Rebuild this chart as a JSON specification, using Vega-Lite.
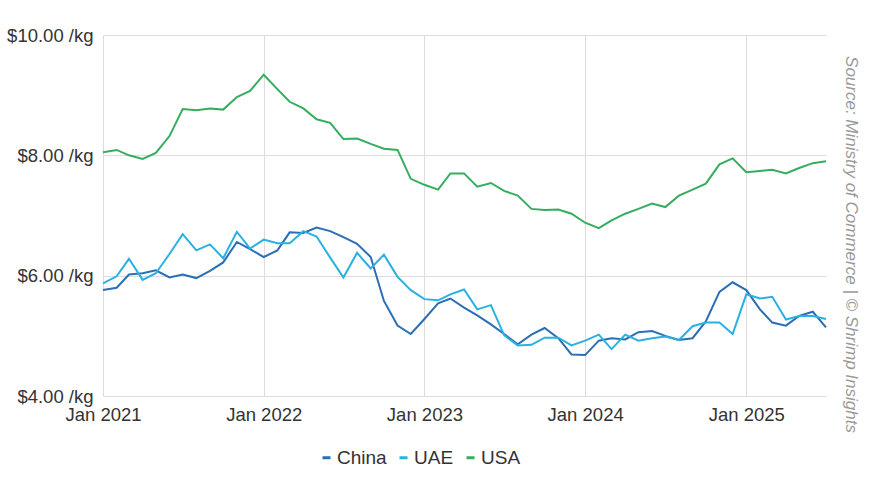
{
  "$schema": "https://vega.github.io/schema/vega-lite/v6.json",
  "width": 723,
  "height": 361,
  "autosize": "none",
  "padding": {"left": 103, "top": 35, "right": 44, "bottom": 93},
  "background": "white",
  "title": {
    "text": "Source: Ministry of Commerce | © Shrimp Insights",
    "orient": "right",
    "anchor": "middle",
    "font": "Liberation Sans",
    "fontSize": 17,
    "fontStyle": "italic",
    "fontWeight": "normal",
    "color": "#9a9a9a",
    "offset": 12,
    "dx": 29
  },
  "datasets": {
    "prices": [
      {"month": "2021-01-01T00:00", "China": 5.76, "UAE": 5.87, "USA": 8.05},
      {"month": "2021-02-01T00:00", "China": 5.80, "UAE": 5.99, "USA": 8.09},
      {"month": "2021-03-01T00:00", "China": 6.02, "UAE": 6.28, "USA": 8.00},
      {"month": "2021-04-01T00:00", "China": 6.04, "UAE": 5.93, "USA": 7.94},
      {"month": "2021-05-01T00:00", "China": 6.09, "UAE": 6.04, "USA": 8.04},
      {"month": "2021-06-01T00:00", "China": 5.97, "UAE": 6.36, "USA": 8.32},
      {"month": "2021-07-01T00:00", "China": 6.02, "UAE": 6.69, "USA": 8.77},
      {"month": "2021-08-01T00:00", "China": 5.96, "UAE": 6.42, "USA": 8.75},
      {"month": "2021-09-01T00:00", "China": 6.08, "UAE": 6.52, "USA": 8.78},
      {"month": "2021-10-01T00:00", "China": 6.22, "UAE": 6.29, "USA": 8.76},
      {"month": "2021-11-01T00:00", "China": 6.56, "UAE": 6.73, "USA": 8.97},
      {"month": "2021-12-01T00:00", "China": 6.44, "UAE": 6.45, "USA": 9.07},
      {"month": "2022-01-01T00:00", "China": 6.31, "UAE": 6.60, "USA": 9.34},
      {"month": "2022-02-01T00:00", "China": 6.42, "UAE": 6.54, "USA": 9.10},
      {"month": "2022-03-01T00:00", "China": 6.72, "UAE": 6.54, "USA": 8.89},
      {"month": "2022-04-01T00:00", "China": 6.71, "UAE": 6.74, "USA": 8.78},
      {"month": "2022-05-01T00:00", "China": 6.80, "UAE": 6.65, "USA": 8.60},
      {"month": "2022-06-01T00:00", "China": 6.74, "UAE": 6.30, "USA": 8.54},
      {"month": "2022-07-01T00:00", "China": 6.64, "UAE": 5.97, "USA": 8.27},
      {"month": "2022-08-01T00:00", "China": 6.53, "UAE": 6.38, "USA": 8.28},
      {"month": "2022-09-01T00:00", "China": 6.31, "UAE": 6.12, "USA": 8.19},
      {"month": "2022-10-01T00:00", "China": 5.58, "UAE": 6.35, "USA": 8.11},
      {"month": "2022-11-01T00:00", "China": 5.17, "UAE": 5.98, "USA": 8.09},
      {"month": "2022-12-01T00:00", "China": 5.03, "UAE": 5.76, "USA": 7.61},
      {"month": "2023-01-01T00:00", "China": 5.28, "UAE": 5.61, "USA": 7.51},
      {"month": "2023-02-01T00:00", "China": 5.54, "UAE": 5.59, "USA": 7.43},
      {"month": "2023-03-01T00:00", "China": 5.62, "UAE": 5.69, "USA": 7.70},
      {"month": "2023-04-01T00:00", "China": 5.47, "UAE": 5.77, "USA": 7.70},
      {"month": "2023-05-01T00:00", "China": 5.34, "UAE": 5.44, "USA": 7.48},
      {"month": "2023-06-01T00:00", "China": 5.19, "UAE": 5.51, "USA": 7.54},
      {"month": "2023-07-01T00:00", "China": 5.03, "UAE": 5.01, "USA": 7.41},
      {"month": "2023-08-01T00:00", "China": 4.86, "UAE": 4.84, "USA": 7.33},
      {"month": "2023-09-01T00:00", "China": 5.02, "UAE": 4.85, "USA": 7.11},
      {"month": "2023-10-01T00:00", "China": 5.13, "UAE": 4.97, "USA": 7.09},
      {"month": "2023-11-01T00:00", "China": 4.96, "UAE": 4.97, "USA": 7.10},
      {"month": "2023-12-01T00:00", "China": 4.69, "UAE": 4.84, "USA": 7.03},
      {"month": "2024-01-01T00:00", "China": 4.68, "UAE": 4.92, "USA": 6.88},
      {"month": "2024-02-01T00:00", "China": 4.92, "UAE": 5.02, "USA": 6.79},
      {"month": "2024-03-01T00:00", "China": 4.96, "UAE": 4.78, "USA": 6.92},
      {"month": "2024-04-01T00:00", "China": 4.94, "UAE": 5.02, "USA": 7.03},
      {"month": "2024-05-01T00:00", "China": 5.06, "UAE": 4.92, "USA": 7.11},
      {"month": "2024-06-01T00:00", "China": 5.08, "UAE": 4.96, "USA": 7.20},
      {"month": "2024-07-01T00:00", "China": 5.00, "UAE": 4.99, "USA": 7.14},
      {"month": "2024-08-01T00:00", "China": 4.93, "UAE": 4.93, "USA": 7.33},
      {"month": "2024-09-01T00:00", "China": 4.96, "UAE": 5.16, "USA": 7.43},
      {"month": "2024-10-01T00:00", "China": 5.24, "UAE": 5.22, "USA": 7.53},
      {"month": "2024-11-01T00:00", "China": 5.73, "UAE": 5.22, "USA": 7.85},
      {"month": "2024-12-01T00:00", "China": 5.89, "UAE": 5.03, "USA": 7.95},
      {"month": "2025-01-01T00:00", "China": 5.76, "UAE": 5.69, "USA": 7.72},
      {"month": "2025-02-01T00:00", "China": 5.44, "UAE": 5.62, "USA": 7.74},
      {"month": "2025-03-01T00:00", "China": 5.22, "UAE": 5.65, "USA": 7.76},
      {"month": "2025-04-01T00:00", "China": 5.17, "UAE": 5.27, "USA": 7.70},
      {"month": "2025-05-01T00:00", "China": 5.33, "UAE": 5.33, "USA": 7.79},
      {"month": "2025-06-01T00:00", "China": 5.40, "UAE": 5.33, "USA": 7.87},
      {"month": "2025-07-01T00:00", "China": 5.14, "UAE": 5.28, "USA": 7.90}
    ]
  },
  "data": {"name": "prices", "format": {"parse": {"month": "date"}}},
  "transform": [
    {"fold": ["China", "UAE", "USA"], "as": ["country", "price"]}
  ],
  "mark": {"type": "line", "strokeWidth": 2, "interpolate": "linear"},
  "encoding": {
    "x": {
      "field": "month",
      "type": "temporal",
      "scale": {
        "domain": [
          {"year": 2021, "month": 1, "date": 1},
          {"year": 2025, "month": 7, "date": 1}
        ],
        "nice": false
      },
      "axis": {
        "title": null,
        "tickCount": {"interval": "year", "step": 1},
        "format": "%b %Y",
        "grid": true,
        "gridColor": "#dcdcdc",
        "gridWidth": 1,
        "domain": false,
        "ticks": false,
        "labelPadding": 9,
        "labelFlush": false,
        "labelOverlap": false
      }
    },
    "y": {
      "field": "price",
      "type": "quantitative",
      "scale": {"domain": [4, 10], "nice": false, "zero": false},
      "axis": {
        "title": null,
        "values": [4, 6, 8, 10],
        "labelExpr": "'$' + format(datum.value, '.2f') + ' /kg'",
        "grid": true,
        "gridColor": "#dcdcdc",
        "gridWidth": 1,
        "domain": false,
        "ticks": false,
        "labelPadding": 10
      }
    },
    "color": {
      "field": "country",
      "type": "nominal",
      "scale": {
        "domain": ["China", "UAE", "USA"],
        "range": ["#2a6fb6", "#2bb0e4", "#35ad5f"]
      },
      "legend": {
        "title": null,
        "orient": "none",
        "direction": "horizontal",
        "legendX": 214,
        "legendY": 413,
        "symbolType": "stroke",
        "symbolSize": 64,
        "symbolStrokeWidth": 3,
        "labelOffset": 1,
        "columnPadding": 6
      }
    }
  },
  "config": {
    "view": {"stroke": null},
    "axis": {
      "labelFont": "Liberation Sans",
      "labelFontSize": 18.5,
      "labelColor": "#333333"
    },
    "legend": {
      "labelFont": "Liberation Sans",
      "labelFontSize": 19,
      "labelColor": "#333333"
    }
  }
}
